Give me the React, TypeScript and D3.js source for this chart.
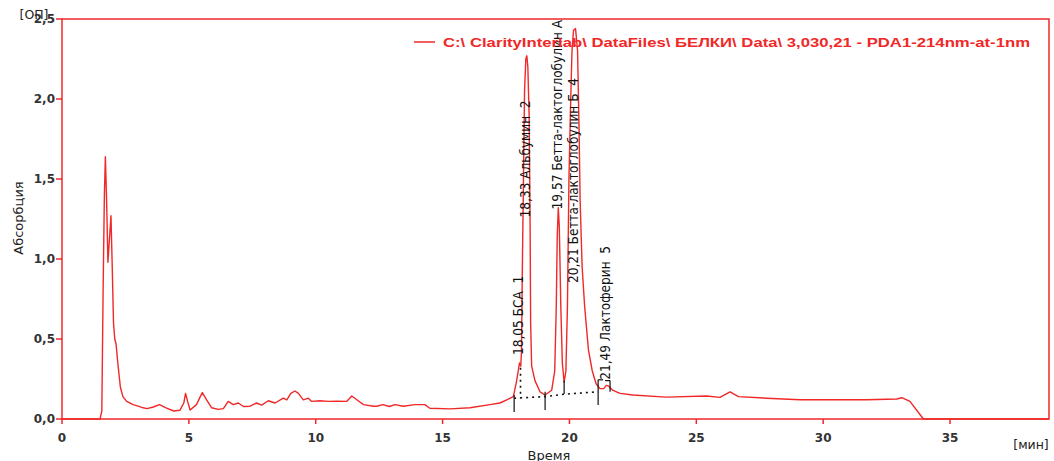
import React from "react";
import * as d3 from "d3";

// ---- data ----
const xTicks = [0, 5, 10, 15, 20, 25, 30, 35];
const yTicks = [0, 0.5, 1.0, 1.5, 2.0, 2.5];
const yTickLabels = ["0,0", "0,5", "1,0", "1,5", "2,0", "2,5"];

const times = [
  0, 1.5, 1.57, 1.62, 1.67, 1.71, 1.76, 1.81, 1.86, 1.93, 1.98, 2.03, 2.08, 2.13, 2.2, 2.3, 2.4, 2.55, 2.8, 3.0,
  3.2, 3.35, 3.6, 3.84, 4.1, 4.4, 4.65, 4.8, 4.87, 4.95, 5.05, 5.3, 5.45, 5.53, 5.7, 5.9, 6.16, 6.36, 6.55, 6.75,
  6.95, 7.15, 7.41, 7.67, 7.87, 8.13, 8.4, 8.72, 8.86, 9.02, 9.18, 9.32, 9.51, 9.71, 9.84, 10.17, 10.5, 10.83, 11.22, 11.42,
  11.62, 11.88, 12.28, 12.4, 12.65, 12.9, 13.13, 13.45, 13.91, 14.3, 14.5, 15.3, 16.08, 16.87, 17.26, 17.53, 17.79, 17.92, 17.98, 18.03,
  18.08, 18.11, 18.14, 18.18, 18.23, 18.28, 18.32, 18.36, 18.41, 18.45, 18.47, 18.51, 18.64, 18.84, 19.04, 19.3, 19.42, 19.48, 19.52, 19.56,
  19.6, 19.66, 19.72, 19.79, 19.86, 19.92, 19.98, 20.05, 20.1, 20.16, 20.24, 20.32, 20.38, 20.42, 20.5, 20.6, 20.75, 20.9, 21.05, 21.2,
  21.35, 21.45, 21.55, 21.7, 21.9, 22.0, 22.5, 23.8, 25.4, 25.93, 26.33, 26.66, 27.77, 29.09, 31.72, 32.9, 33.1, 33.42, 33.95, 38.9,
];
const absorbance = [
  0, 0, 0.05, 0.8, 1.4, 1.64, 1.35, 0.98, 1.1, 1.27, 0.95, 0.6, 0.5, 0.47, 0.35, 0.2, 0.14, 0.11, 0.09, 0.08,
  0.07, 0.065, 0.075, 0.09, 0.07, 0.05, 0.055, 0.1, 0.16, 0.11, 0.056, 0.09, 0.14, 0.165, 0.12, 0.07, 0.06, 0.065, 0.11, 0.09,
  0.1, 0.078, 0.08, 0.1, 0.087, 0.114, 0.1, 0.13, 0.12, 0.16, 0.175, 0.16, 0.12, 0.13, 0.11, 0.114, 0.11, 0.112, 0.11, 0.144,
  0.12, 0.09, 0.08, 0.08, 0.09, 0.078, 0.09, 0.08, 0.09, 0.09, 0.067, 0.063, 0.07, 0.09, 0.1, 0.12, 0.14, 0.24, 0.3, 0.35,
  0.33, 0.42, 0.9, 1.4, 2.05, 2.25, 2.27, 2.2, 1.9, 1.2, 0.6, 0.33, 0.24, 0.17, 0.15, 0.18, 0.3, 0.7, 1.15, 1.32,
  1.2, 0.7, 0.35, 0.23, 0.3, 0.7, 1.5, 2.0, 2.3, 2.43, 2.44, 2.3, 1.8, 1.37, 0.95, 0.7, 0.43, 0.3, 0.22, 0.19,
  0.19, 0.21, 0.205, 0.18, 0.167, 0.16, 0.15, 0.137, 0.144, 0.135, 0.17, 0.14, 0.13, 0.12, 0.12, 0.125, 0.133, 0.11, 0, 0,
];

const peakTimes = [18.05, 18.33, 19.57, 20.21, 21.49];
const peakLabels = ["18,05 БСА  1", "18,33 Альбумин  2", "19,57 Бетта-лактоглобулин А", "20,21 Бетта-лактоглобулин Б  4", "21,49 Лактоферин  5"];
const peakLabelBase = [0.4, 1.26, 1.31, 0.85, 0.245];

// integration markers: time, top, bottom
const markerTimes = [17.82, 19.04, 19.79, 21.13, 21.6];
const markerTops = [0.15, 0.17, 0.24, 0.245, 0.24];
const markerBottoms = [0.044, 0.056, 0.156, 0.088, 0.17];
// dotted baseline
const baseTimes = [17.82, 19.04, 19.79, 21.13];
const baseValues = [0.13, 0.14, 0.155, 0.17];
const dropTime = 18.07;
const dropTop = 0.32;
const dropBottom = 0.13;

const legendText = "C:\\ ClarityInterlab\\ DataFiles\\ БЕЛКИ\\ Data\\ 3,030,21 - PDA1-214nm-at-1nm";

const RED = "#f02828";

export default function App() {
  const W = 1054, H = 461;
  const left = 62, right = 1049, top = 19, bottom = 419;
  const x = d3.scaleLinear().domain([0, 38.9]).range([left, right]);
  const y = d3.scaleLinear().domain([0, 2.5]).range([bottom, top]);
  const pts: [number, number][] = times.map((t, i) => [t, absorbance[i]]);
  const line = d3.line<[number, number]>().x((d) => x(d[0])).y((d) => y(d[1]));
  const basePts: [number, number][] = baseTimes.map((t, i) => [t, baseValues[i]]);

  const tickFont = "'DejaVu Sans', Verdana, sans-serif";
  const narrow = "'Liberation Sans Narrow', 'DejaVu Sans Condensed', 'Arial Narrow', sans-serif";

  return (
    <svg width={W} height={H} style={{ position: "absolute", left: 0, top: 0, background: "#fff" }}>
      <rect x={0} y={0} width={W} height={H} fill="#fff" />
      {/* frame */}
      <rect x={left} y={top} width={right - left} height={bottom - top} fill="none" stroke={RED} strokeWidth={1.5} />
      {/* y ticks */}
      {yTicks.map((v, i) => (
        <g key={"y" + i}>
          <line x1={left - 6} x2={left} y1={y(v)} y2={y(v)} stroke={RED} strokeWidth={1.5} />
          <text x={left - 7} y={y(v)} dy="0.36em" textAnchor="end" fontFamily={tickFont} fontWeight="bold" fontSize={12} fill="#333">
            {yTickLabels[i]}
          </text>
        </g>
      ))}
      {/* x ticks */}
      {xTicks.map((t, i) => (
        <g key={"x" + i}>
          <line x1={x(t)} x2={x(t)} y1={bottom} y2={bottom + 5} stroke={RED} strokeWidth={1.5} />
          <text x={x(t)} y={bottom + 23} textAnchor="middle" fontFamily={tickFont} fontWeight="bold" fontSize={12} fill="#333">
            {String(t)}
          </text>
        </g>
      ))}
      <text x={34} y={19} textAnchor="middle" fontFamily={tickFont} fontSize={12.5} fill="#222">[ОП]</text>
      <text x={1031} y={449} textAnchor="middle" fontFamily={tickFont} fontSize={12.5} fill="#222">[мин]</text>
      <text x={549} y={460} textAnchor="middle" fontFamily={tickFont} fontSize={13} fill="#222">Время</text>
      <text transform={`translate(23,218) rotate(-90)`} textAnchor="middle" fontFamily={tickFont} fontSize={13} fill="#222">Абсорбция</text>

      {/* curve */}
      <path d={line(pts) || ""} fill="none" stroke={RED} strokeWidth={1.4} strokeLinejoin="round" />

      {/* baseline & markers */}
      <path d={line(basePts) || ""} fill="none" stroke="#111" strokeWidth={1.6} strokeDasharray="2,4" />
      <line x1={x(dropTime)} x2={x(dropTime)} y1={y(dropTop)} y2={y(dropBottom)} stroke="#111" strokeWidth={1.6} strokeDasharray="2,4" />
      {markerTimes.map((t, i) => (
        <line key={"m" + i} x1={x(t)} x2={x(t)} y1={y(markerTops[i])} y2={y(markerBottoms[i])} stroke="#111" strokeWidth={1.2} />
      ))}
      <line x1={x(markerTimes[3])} x2={x(markerTimes[3]) + 5} y1={y(markerTops[3])} y2={y(markerTops[3])} stroke="#111" strokeWidth={1.2} />
      <line x1={x(markerTimes[4]) - 5} x2={x(markerTimes[4])} y1={y(markerTops[4])} y2={y(markerTops[4])} stroke="#111" strokeWidth={1.2} />

      {/* peak labels */}
      {peakTimes.map((t, i) => (
        <text key={"p" + i} transform={`translate(${x(t) + 3},${y(peakLabelBase[i])}) rotate(-90)`} fontFamily={narrow} fontSize={13.5} fill="#111" style={{ whiteSpace: "pre" }}>
          {peakLabels[i]}
        </text>
      ))}

      {/* legend */}
      <line x1={414} x2={435} y1={42} y2={42} stroke={RED} strokeWidth={1.5} />
      <text x={443} y={42} dy="0.36em" fontFamily="'Liberation Sans', Arial, sans-serif" fontWeight="bold" fontSize={13.5} fill={RED} textLength={587} lengthAdjust="spacingAndGlyphs">
        {legendText}
      </text>
    </svg>
  );
}
